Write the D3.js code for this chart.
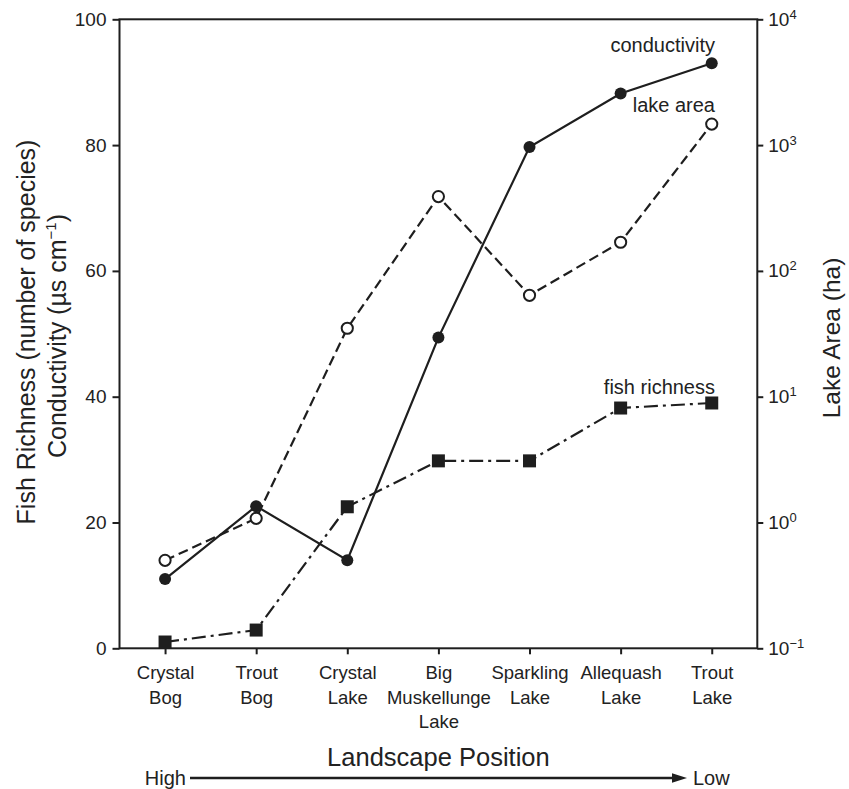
<!DOCTYPE html>
<html><head><meta charset="utf-8">
<script src="https://cdn.jsdelivr.net/npm/d3@7"></script>
<style>body{margin:0;background:#fff}svg{display:block}text{font-family:"Liberation Sans",Arial,sans-serif;fill:#222}</style>
</head><body><svg id="c" width="849" height="789"></svg>
<script>
const categories = [["Crystal","Bog"],["Trout","Bog"],["Crystal","Lake"],["Big","Muskellunge","Lake"],["Sparkling","Lake"],["Allequash","Lake"],["Trout","Lake"]];
const conductivity = [11.0, 22.6, 14.0, 49.4, 79.7, 88.2, 93.0];
const fishRichness = [1.0, 2.9, 22.5, 29.8, 29.8, 38.2, 39.0];
const lakeArea = [0.5, 1.08, 35, 390, 64, 169, 1470];
const leftTicks = [0, 20, 40, 60, 80, 100];
const rightTickExps = [-1, 0, 1, 2, 3, 4];

const svg = d3.select("#c");
const L = 119.5, R = 757.3, T = 19.3, B = 648.3;
const col = "#1e1e1e";
const idx = categories.map((d,i)=>i);
const x = d3.scalePoint().domain(idx).range([L, R]).padding(0.5);
const y = d3.scaleLinear().domain([0,100]).range([B, T]);
const yLog = d3.scaleLog().domain([0.1, 10000]).range([B, T]);

// frame
svg.append("rect").attr("x",L).attr("y",T).attr("width",R-L).attr("height",B-T)
  .attr("fill","none").attr("stroke",col).attr("stroke-width",2);

// left axis
const gl = svg.append("g").attr("transform",`translate(${L},0)`)
  .call(d3.axisLeft(y).tickValues(leftTicks).tickSize(7).tickPadding(6));
gl.select(".domain").remove();
gl.selectAll("line").attr("stroke",col).attr("stroke-width",2);
gl.selectAll("text").style("font-size","19px").attr("fill",col);

// right axis
const gr = svg.append("g").attr("transform",`translate(${R},0)`)
  .call(d3.axisRight(yLog).tickValues(rightTickExps.map(e=>Math.pow(10,e))).tickSize(6).tickPadding(5).tickFormat(""));
gr.select(".domain").remove();
gr.selectAll("line").attr("stroke",col).attr("stroke-width",2);
gr.selectAll(".tick").each(function(d,i){
  const t = d3.select(this).select("text").text(null).style("font-size","19px").attr("fill",col).attr("x",11);
  t.append("tspan").text("10");
  t.append("tspan").text(rightTickExps[i] < 0 ? "−1" : String(rightTickExps[i])).style("font-size","13px").attr("dy","-7");
});

// bottom axis
const gb = svg.append("g").attr("transform",`translate(0,${B})`)
  .call(d3.axisBottom(x).tickSize(6).tickFormat(""));
gb.select(".domain").remove();
gb.selectAll("line").attr("stroke",col).attr("stroke-width",2);
gb.selectAll(".tick").each(function(d){
  const t = d3.select(this).select("text").text(null).attr("y",0).attr("dy",null)
    .style("font-size","18.5px").attr("fill",col);
  categories[d].forEach((s,j)=>{
    t.append("tspan").attr("x",0).attr("y",31 + j*24.5).text(s);
  });
});

// lines
function series(vals, sc, dash){
  const line = d3.line().x((d,i)=>x(i)).y(d=>sc(d));
  svg.append("path").datum(vals).attr("d",line).attr("fill","none")
    .attr("stroke",col).attr("stroke-width",2.2).attr("stroke-dasharray",dash);
}
series(lakeArea, yLog, "10,5");
series(fishRichness, y, "14,5,3,5");
series(conductivity, y, null);

svg.append("g").selectAll("circle.la").data(lakeArea).join("circle")
  .attr("cx",(d,i)=>x(i)).attr("cy",d=>yLog(d)).attr("r",5.6)
  .attr("fill","#fff").attr("stroke",col).attr("stroke-width",2);
svg.append("g").selectAll("rect").data(fishRichness).join("rect")
  .attr("x",(d,i)=>x(i)-6.5).attr("y",d=>y(d)-6.5).attr("width",13).attr("height",13).attr("fill",col);
svg.append("g").selectAll("circle.co").data(conductivity).join("circle")
  .attr("cx",(d,i)=>x(i)).attr("cy",d=>y(d)).attr("r",6).attr("fill",col);

// series labels
const lab = [["conductivity",45],["lake area",105],["fish richness",387]];
lab.forEach(([s,yy])=>svg.append("text").attr("x",715).attr("y",yy).attr("dy","0.35em")
  .attr("text-anchor","end").style("font-size","20px").text(s));

// axis titles
svg.append("text").attr("transform","translate(35,332) rotate(-90)")
  .attr("text-anchor","middle").style("font-size","25px").text("Fish Richness (number of species)");
const lt2 = svg.append("text").attr("transform","translate(66,336) rotate(-90)")
  .attr("text-anchor","middle").style("font-size","25px");
lt2.append("tspan").text("Conductivity (µs cm");
lt2.append("tspan").text("−1").style("font-size","15px").attr("dy","-10");
lt2.append("tspan").text(")").attr("dy","10");

svg.append("text").attr("transform","translate(840,338) rotate(-90)")
  .attr("text-anchor","middle").style("font-size","24.5px").text("Lake Area (ha)");

svg.append("text").attr("x",(L+R)/2).attr("y",757).attr("dy","0.35em").attr("text-anchor","middle")
  .style("font-size","25.5px").text("Landscape Position");

// High -> Low arrow
svg.append("text").attr("x",186).attr("y",778).attr("dy","0.35em").attr("text-anchor","end")
  .style("font-size","20px").text("High");
svg.append("line").attr("x1",190).attr("x2",676).attr("y1",778).attr("y2",778)
  .attr("stroke",col).attr("stroke-width",2.5);
svg.append("path").attr("d","M672,773.3L687,778L672,782.7Z").attr("fill",col);
svg.append("text").attr("x",693).attr("y",778).attr("dy","0.35em").attr("text-anchor","start")
  .style("font-size","20px").text("Low");
</script></body></html>
